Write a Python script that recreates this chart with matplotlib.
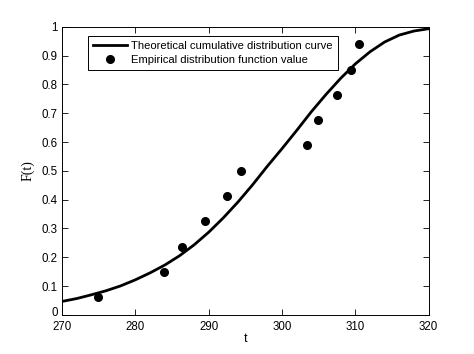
import matplotlib
matplotlib.use("Agg")
import matplotlib.pyplot as plt
import matplotlib.transforms as mtransforms

# theoretical CDF
t_curve = [270, 272, 274, 276, 278, 280, 282, 284, 286, 288, 290, 292, 294,
           296, 298, 300, 302, 304, 306, 308, 310, 312, 314, 316, 318, 320]
f_curve = [0.047, 0.057, 0.070, 0.084, 0.101, 0.122, 0.146, 0.173, 0.205,
           0.243, 0.287, 0.337, 0.392, 0.452, 0.516, 0.577, 0.640, 0.705,
           0.765, 0.821, 0.871, 0.913, 0.947, 0.971, 0.985, 0.993]

# empirical points
t_emp = [274.9, 283.9, 286.4, 289.45, 292.45, 294.45, 303.45, 304.95,
         307.45, 309.45, 310.45]
f_emp = [0.061, 0.149, 0.237, 0.325, 0.412, 0.500, 0.588, 0.675,
         0.763, 0.851, 0.939]

plt.rcParams["font.family"] = ["Liberation Sans", "DejaVu Sans"]

fig = plt.figure(figsize=(4.74, 3.54), dpi=100)
ax = fig.add_axes([0.1308, 0.1102, 0.7736, 0.8144])

ax.plot(t_curve, f_curve, color="black", linewidth=2.0,
        label="Theoretical cumulative distribution curve")
ax.plot(t_emp, f_emp, "o", color="black", markersize=5.5,
        label="Empirical distribution function value")

ax.set_xlim(270, 320)
ax.set_ylim(0, 1)
ax.set_xticks(range(270, 321, 10))
ax.set_yticks([i / 10 for i in range(11)])
ax.set_yticklabels(["0", "0.1", "0.2", "0.3", "0.4", "0.5", "0.6", "0.7",
                    "0.8", "0.9", "1"])
ax.tick_params(direction="in", top=True, right=True, length=4,
               width=0.6, labelsize=8.3)
ax.tick_params(axis="x", pad=4)
ax.tick_params(axis="y", pad=3)
for s in ax.spines.values():
    s.set_linewidth(0.7)

# nudge the "0" at the corner up a bit so it clears "270"
zero_lbl = ax.get_yticklabels()[0]
zero_lbl.set_transform(zero_lbl.get_transform() +
                       mtransforms.ScaledTranslation(0, 2.5 / 72, fig.dpi_scale_trans))

ax.set_xlabel("t", fontsize=9, labelpad=0)
ax.set_ylabel("F(t)", fontsize=10, family=["Liberation Serif", "DejaVu Serif"],
              labelpad=5)

leg = ax.legend(loc="upper left", bbox_to_anchor=(0.071, 0.968),
                borderaxespad=0, fancybox=False, edgecolor="black",
                fontsize=8.1, handlelength=3.0, handletextpad=0.4,
                borderpad=0.45, labelspacing=0.35, framealpha=1)
leg.get_frame().set_linewidth(0.7)

fig.savefig("out.png", dpi=100)
